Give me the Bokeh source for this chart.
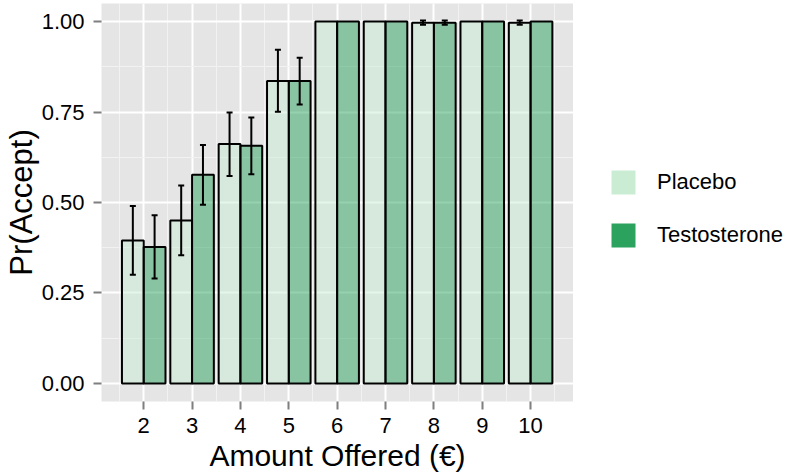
from bokeh.plotting import figure
from bokeh.layouts import row
from bokeh.models import (ColumnDataSource, FixedTicker, Whisker, TeeHead, Legend,
                          LegendItem, NumeralTickFormatter)
from bokeh.embed import file_html
from bokeh.resources import INLINE

# ---- data ----
amounts = [2, 3, 4, 5, 6, 7, 8, 9, 10]
placebo = [0.395, 0.450, 0.662, 0.836, 1.0, 1.0, 0.997, 1.0, 0.997]
placebo_lower = [0.300, 0.354, 0.573, 0.751, 1.0, 1.0, 0.991, 1.0, 0.991]
placebo_upper = [0.490, 0.547, 0.749, 0.922, 1.0, 1.0, 1.003, 1.0, 1.003]
testosterone = [0.377, 0.577, 0.657, 0.836, 1.0, 1.0, 0.997, 1.0, 1.0]
testosterone_lower = [0.290, 0.494, 0.578, 0.771, 1.0, 1.0, 0.991, 1.0, 1.0]
testosterone_upper = [0.465, 0.659, 0.735, 0.900, 1.0, 1.0, 1.003, 1.0, 1.0]
y_ticks = [0.0, 0.25, 0.5, 0.75, 1.0]
y_minor = [0.125, 0.375, 0.625, 0.875]
groups = ["Placebo", "Testosterone"]

# ---- style ----
FONT = "Liberation Sans"
PLACEBO_COL = "#c9ecd3"
TESTO_COL = "#2ca25f"
BAR_W = 0.45

x_minor = [a - 0.5 for a in amounts] + [amounts[-1] + 0.5]

main = figure(width=573, height=475, x_range=(1.127, 10.887), y_range=(-0.05, 1.05),
              output_backend="svg", toolbar_location=None,
              min_border_left=100, min_border_right=0, min_border_top=3, min_border_bottom=74)
main.background_fill_color = "#e5e5e5"
main.border_fill_color = "white"
main.outline_line_color = None

src = ColumnDataSource(dict(
    xp=[a - BAR_W / 2 for a in amounts],
    xt=[a + BAR_W / 2 for a in amounts],
    placebo=placebo, testosterone=testosterone))

main.vbar(x="xp", top="placebo", width=BAR_W, source=src, fill_color=PLACEBO_COL,
          fill_alpha=0.5, line_color="black", line_width=2)
main.vbar(x="xt", top="testosterone", width=BAR_W, source=src, fill_color=TESTO_COL,
          fill_alpha=0.5, line_color="black", line_width=2)

# error bars (only where there is a non-zero interval)
def err_source(offset, lo, hi):
    rows = [(a + offset, l, h) for a, l, h in zip(amounts, lo, hi) if h > l]
    return ColumnDataSource(dict(base=[r[0] for r in rows], lower=[r[1] for r in rows],
                                 upper=[r[2] for r in rows]))

for off, lo, hi in [(-BAR_W / 2, placebo_lower, placebo_upper),
                    (BAR_W / 2, testosterone_lower, testosterone_upper)]:
    w = Whisker(base="base", lower="lower", upper="upper", source=err_source(off, lo, hi),
                line_color="black", line_width=2, level="overlay",
                upper_head=TeeHead(size=6, line_color="black", line_width=2),
                lower_head=TeeHead(size=6, line_color="black", line_width=2))
    main.add_layout(w)

# grids
main.xaxis.ticker = FixedTicker(ticks=amounts, minor_ticks=x_minor)
main.yaxis.ticker = FixedTicker(ticks=y_ticks, minor_ticks=y_minor)
for g in (main.xgrid, main.ygrid):
    g.grid_line_color = "white"
    g.grid_line_width = 2
    g.minor_grid_line_color = "#f2f2f2"
    g.minor_grid_line_width = 1

main.yaxis.formatter = NumeralTickFormatter(format="0.00")

for ax in (main.xaxis, main.yaxis):
    ax.axis_line_color = None
    ax.major_tick_line_color = "#7f7f7f"
    ax.major_tick_line_width = 2
    ax.major_tick_in = 0
    ax.major_tick_out = 8
    ax.minor_tick_line_color = None
    ax.major_label_text_font = FONT
    ax.major_label_text_font_size = "22px"
    ax.major_label_text_color = "black"
    ax.axis_label_text_font = FONT
    ax.axis_label_text_font_style = "normal"
    ax.axis_label_text_color = "black"

main.xaxis.axis_label = "Amount Offered (€)"
main.yaxis.axis_label = "Pr(Accept)"
main.xaxis.axis_label_text_font_size = "30px"
main.yaxis.axis_label_text_font_size = "31px"
main.xaxis.major_label_standoff = 8
main.xaxis.axis_label_standoff = 3
main.yaxis.major_label_standoff = 9
main.yaxis.axis_label_standoff = 0

# ---- legend panel (separate figure to the right) ----
leg = figure(width=220, height=475, x_range=(0, 1), y_range=(0, 1),
             output_backend="svg", toolbar_location=None,
             x_axis_type=None, y_axis_type=None, min_border=0)
leg.outline_line_color = None
leg.grid.visible = False
leg.background_fill_color = "white"
# zero-height solid bars (outside this panel's range): used only as legend keys
r_p = leg.vbar(x="xp", top=0, width=BAR_W, source=src, fill_color=PLACEBO_COL, line_color=None)
r_t = leg.vbar(x="xt", top=0, width=BAR_W, source=src, fill_color=TESTO_COL, line_color=None)

legend = Legend(items=[LegendItem(label=groups[0], renderers=[r_p]),
                       LegendItem(label=groups[1], renderers=[r_t])],
                location=(35, 151), glyph_width=30, glyph_height=30, label_height=30,
                label_standoff=19, spacing=23, padding=0, margin=0,
                border_line_color=None, background_fill_alpha=0,
                label_text_font=FONT, label_text_font_size="22px", label_text_color="black")
leg.add_layout(legend)

p = row(main, leg, spacing=0)

open("out.html", "w").write(file_html(p, INLINE))
